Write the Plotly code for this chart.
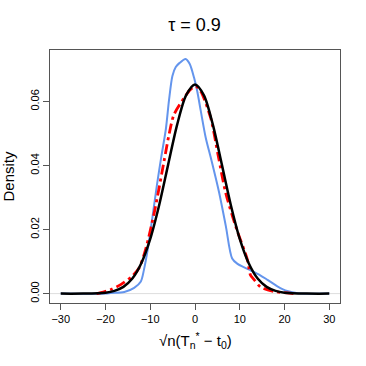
import plotly.graph_objects as go

# ---- values
x_blue = [-30, -20, -18.8, -15.8, -13.6, -12.1, -11.4, -10.6, -9.5, -8.5, -7.5, -6.5,
          -5.8, -5.05, -4.3, -3.5, -2.1, -1.2, -0.2, 0.5, 1.3, 2.4, 3.7, 5.4, 6.9,
          8.3, 9.5, 11, 12.5, 14.5, 16.2, 18.4, 20.6, 23, 30]
y_blue = [0, 0, 0.0002, 0.0005, 0.0018, 0.0038, 0.0075, 0.0135, 0.0240, 0.0340, 0.0430, 0.0515,
          0.0605, 0.0680, 0.0708, 0.0720, 0.0733, 0.0718, 0.0674, 0.0632, 0.0570, 0.0487, 0.0415, 0.0315, 0.0210,
          0.0110, 0.0093, 0.0082, 0.0072, 0.0058, 0.0043, 0.0023, 0.0008, 0.0001, 0]

x_red = [-22, -21, -18.8, -16.6, -14, -12.5, -11, -9, -6.9, -5.8, -4.7, -2.45, -1, 0.15,
         1.27, 3.5, 5.2, 6.86, 9.1, 11.7, 12.4, 13.2, 14.7, 17.6, 20.6, 22]
y_red = [0, 0.0003, 0.0013, 0.0028, 0.0055, 0.0080, 0.0140, 0.0260, 0.0415, 0.0497, 0.0559, 0.0611, 0.0638, 0.0648,
         0.0632, 0.0549, 0.0430, 0.0315, 0.0210, 0.0106, 0.0058, 0.0044, 0.0020, 0.0007, 0.0002, 0]

x_black = [-30, -25, -20, -18, -16, -14, -12, -10, -8, -6, -4, -2, 0,
           2, 4, 6, 8, 10, 12, 14, 16, 18, 20, 25, 30]
y_black = [0, 0.00002, 0.0003, 0.00085, 0.0021, 0.0047, 0.0095, 0.0171, 0.0277, 0.0403, 0.0527, 0.0619, 0.0653,
           0.0619, 0.0527, 0.0403, 0.0277, 0.0171, 0.0095, 0.0047, 0.0021, 0.00085, 0.0003, 0.00002, 0]

x_ticks = [-30, -20, -10, 0, 10, 20, 30]
y_ticks = [0.00, 0.02, 0.04, 0.06]
y_labels = ["0.00", "0.02", "0.04", "0.06"]

FONT = "Liberation Sans, Arial, sans-serif"

fig = go.Figure()

fig.add_trace(go.Scatter(x=x_blue, y=y_blue, mode="lines",
                         line=dict(color="#6495ED", width=2, shape="spline", smoothing=0.8)))
fig.add_trace(go.Scatter(x=x_red, y=y_red, mode="lines",
                         line=dict(color="#FF0000", width=2.8, shape="spline", smoothing=0.8,
                                   dash="10px,4px,3px,4px")))
fig.add_trace(go.Scatter(x=x_black, y=y_black, mode="lines",
                         line=dict(color="black", width=2.5, shape="spline", smoothing=0.8)))

# light grey line at zero
fig.add_shape(type="line", xref="paper", x0=0, x1=1, yref="y", y0=0, y1=0,
              line=dict(color="#dddddd", width=1), layer="below")

axis_style = dict(showline=True, mirror=True, linecolor="#555555", linewidth=1,
                  ticks="outside", ticklen=6, tickcolor="#555555", tickwidth=1,
                  showgrid=False, zeroline=False, automargin=False,
                  tickfont=dict(family=FONT, size=11, color="black"))

fig.update_layout(
    width=366, height=366,
    margin=dict(l=50, r=26, t=50, b=63),
    paper_bgcolor="white", plot_bgcolor="white",
    showlegend=False,
    hovermode=False,
    title=dict(text="τ = 0.9", x=194.5 / 366, xanchor="center", y=1 - 25 / 366, yanchor="middle",
               yref="container", font=dict(family=FONT, size=18, color="black")),
    xaxis=dict(range=[-32.4, 32.4], tickvals=x_ticks, ticktext=[str(v).replace("-", "−") for v in x_ticks],
               **axis_style),
    yaxis=dict(range=[-0.00293, 0.0761], tickvals=y_ticks, ticktext=y_labels, tickangle=-90,
               **axis_style),
    annotations=[
        dict(text="Density", x=(8 - 50) / 290, y=0.5, xref="paper", yref="paper", xanchor="center", yanchor="middle",
             textangle=-90, showarrow=False, font=dict(family=FONT, size=15, color="black")),
        dict(text="√n(T<sub>n</sub><sup>*</sup> − t<sub>0</sub>)", x=0.5, y=-37 / 253, xref="paper", yref="paper",
             xanchor="center", yanchor="middle", showarrow=False,
             font=dict(family=FONT, size=15, color="black")),
    ],
)

# drop the page's default body margin so the figure starts at (0, 0)
fig.write_html("out.html", config={"displayModeBar": False},
               post_script="document.body.style.margin = '0';")
